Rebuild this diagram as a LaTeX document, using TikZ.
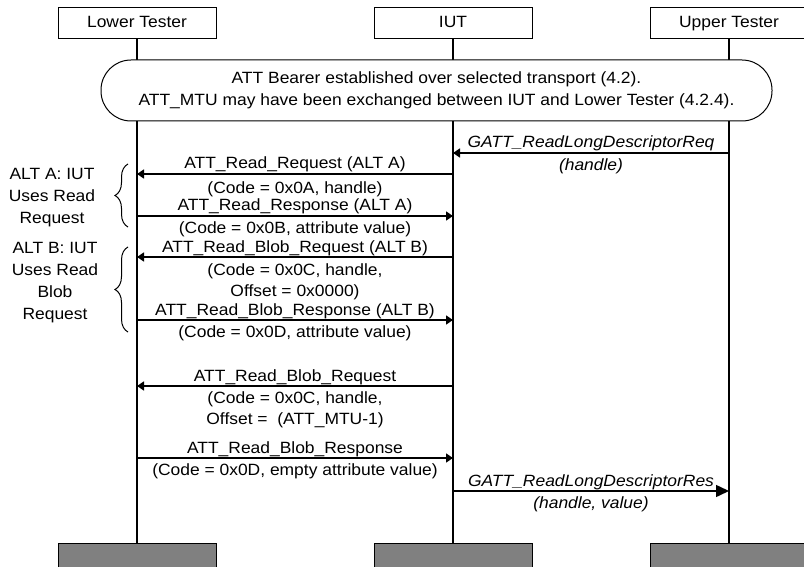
\documentclass[tikz,border=0pt]{standalone}
\usepackage{fontspec}
\setmainfont{Liberation Sans}[FakeStretch=1.07]
\usetikzlibrary{arrows.meta,decorations.pathreplacing}
\definecolor{footgray}{HTML}{808080}
\begin{document}
\begin{tikzpicture}[x=1pt,y=-1pt,
  font=\fontsize{16.3}{21}\selectfont,
  head/.style={draw,line width=1pt,fill=white,minimum width=158pt,minimum height=31pt,inner sep=0pt,text height=12pt,text depth=3.5pt},
  foot/.style={draw,line width=1pt,fill=footgray,minimum width=158pt,minimum height=32pt,inner sep=0pt,anchor=north},
  life/.style={line width=2pt},
  msg/.style={line width=1.5pt,-{Triangle[length=7pt,width=9pt]}},
  bigmsg/.style={line width=1.5pt,-{Triangle[length=13pt,width=12pt]}},
  abv/.style={anchor=base,inner sep=0pt},
  blw/.style={anchor=north,inner sep=0pt,align=center},
  bracestyle/.style={line width=1pt,decorate,decoration={brace,amplitude=13pt}},
  alttext/.style={align=center,inner sep=0pt,font=\fontsize{16.3}{22}\selectfont}
]
\useasboundingbox (0,0) rectangle (804,567);
\clip (0,0) rectangle (804,567);

% lifeline heads and feet
\node[head] (lt) at (137,23.5) {Lower Tester};
\node[head] (iut) at (453,23.5) {IUT};
\node[head] (ut) at (729,23.5) {Upper Tester};
\node[foot] (ltb) at (137,543) {};
\node[foot] (iutb) at (453,543) {};
\node[foot] (utb) at (729,543) {};

% lifelines
\draw[life] (lt) -- (ltb);
\draw[life] (iut) -- (iutb);
\draw[life] (ut) -- (utb);

% setup box
\node[draw,line width=1pt,fill=white,rounded corners=30pt,minimum width=671pt,minimum height=61pt,
      align=center,inner sep=0pt,font=\fontsize{16.3}{22}\selectfont] (setup) at (436.5,90.5)
  {ATT Bearer established over selected transport (4.2).\\ATT\_MTU may have been exchanged between IUT and Lower Tester (4.2.4).};

% message end points
\coordinate (u1) at (729,153); \coordinate (i1) at (453,153);
\coordinate (i2) at (453,174); \coordinate (l2) at (137,174);
\coordinate (l3) at (137,216); \coordinate (i3) at (453,216);
\coordinate (i4) at (453,257); \coordinate (l4) at (137,257);
\coordinate (l5) at (137,320); \coordinate (i5) at (453,320);
\coordinate (i6) at (453,386); \coordinate (l6) at (137,386);
\coordinate (l7) at (137,458); \coordinate (i7) at (453,458);
\coordinate (i8) at (453,491); \coordinate (u8) at (729,491);

% messages
\draw[msg] (u1) -- (i1);
\node[abv,font=\fontsize{16.3}{21}\selectfont\itshape] (m1a) at (591,148) {GATT\_ReadLongDescriptorReq};
\node[blw,font=\fontsize{16.3}{21}\selectfont\itshape] (m1b) at (591,158) {(handle)};

\draw[msg] (i2) -- (l2);
\node[abv] (m2a) at (295,169) {ATT\_Read\_Request (ALT A)};
\node[blw] (m2b) at (295,181) {(Code = 0x0A, handle)};

\draw[msg] (l3) -- (i3);
\node[abv] (m3a) at (295,211) {ATT\_Read\_Response (ALT A)};
\node[blw] (m3b) at (295,221) {(Code = 0x0B, attribute value)};

\draw[msg] (i4) -- (l4);
\node[abv] (m4a) at (295,252) {ATT\_Read\_Blob\_Request (ALT B)};
\node[blw] (m4b) at (295,263) {(Code = 0x0C, handle,\\Offset = 0x0000)};

\draw[msg] (l5) -- (i5);
\node[abv] (m5a) at (295,315) {ATT\_Read\_Blob\_Response (ALT B)};
\node[blw] (m5b) at (295,325) {(Code = 0x0D, attribute value)};

\draw[msg] (i6) -- (l6);
\node[abv] (m6a) at (295,381) {ATT\_Read\_Blob\_Request};
\node[blw] (m6b) at (295,391) {(Code = 0x0C, handle,\\Offset = \ (ATT\_MTU-1)};

\draw[msg] (l7) -- (i7);
\node[abv] (m7a) at (295,453) {ATT\_Read\_Blob\_Response};
\node[blw] (m7b) at (295,463) {(Code = 0x0D, empty attribute value)};

\draw[bigmsg] (i8) -- (u8);
\node[abv,font=\fontsize{16.3}{21}\selectfont\itshape] (m8a) at (591,486) {GATT\_ReadLongDescriptorRes};
\node[blw,font=\fontsize{16.3}{21}\selectfont\itshape] (m8b) at (591,496) {(handle, value)};

% alternatives
\coordinate (ba1) at (128,227); \coordinate (ba2) at (128,164);
\coordinate (bb1) at (128,332); \coordinate (bb2) at (128,247);
\draw[bracestyle] (ba1) -- (ba2);
\draw[bracestyle] (bb1) -- (bb2);
\node[alttext] (alta) at (52,198) {ALT A: IUT\\Uses Read\\Request};
\node[alttext] (altb) at (55,283) {ALT B: IUT\\Uses Read\\Blob\\Request};
\end{tikzpicture}
\end{document}
